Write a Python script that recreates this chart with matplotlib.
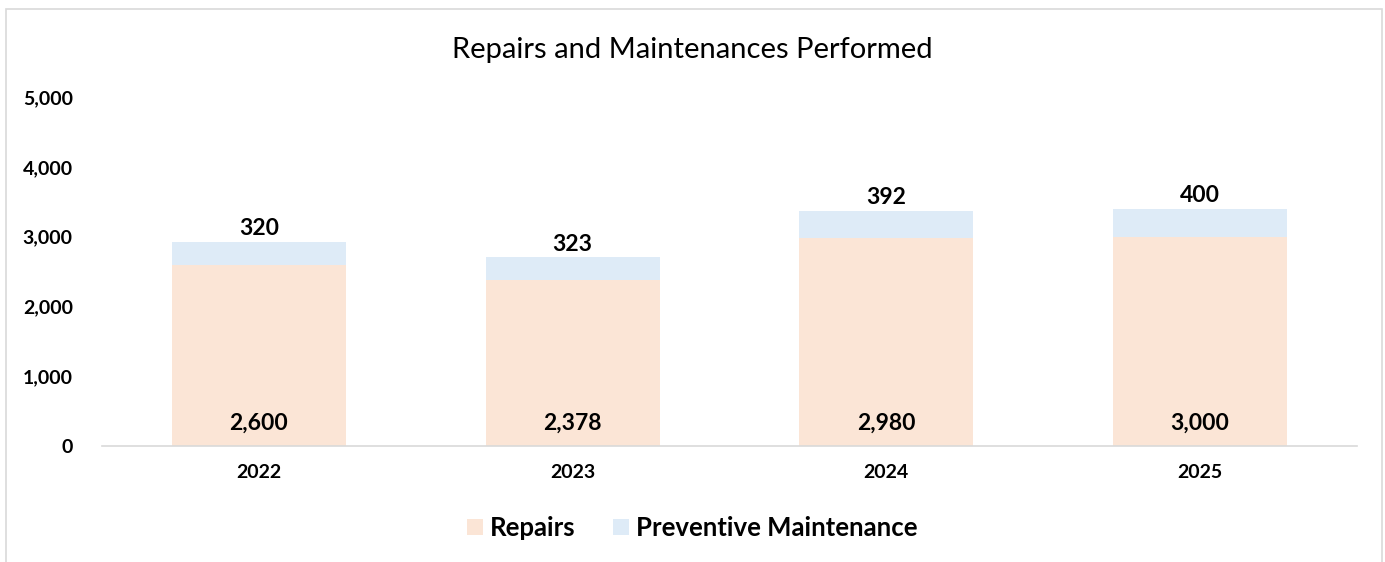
import matplotlib
matplotlib.use("Agg")
import matplotlib.pyplot as plt
import numpy as np
from matplotlib.patches import Rectangle

plt.rcParams['font.family'] = ['Lato', 'DejaVu Sans']

years = ["2022", "2023", "2024", "2025"]
repairs = [2600, 2378, 2980, 3000]
preventive = [320, 323, 392, 400]

repair_color = "#FBE5D6"
prev_color = "#DEEBF7"

fig = plt.figure(figsize=(13.85, 5.62), dpi=100)
ax = fig.add_axes([102/1385, 1 - 446/562, (1357-102)/1385, (446-97)/562])

x = np.arange(len(years))
w = 0.555
ax.bar(x, repairs, w, color=repair_color, label="Repairs")
ax.bar(x, preventive, w, bottom=repairs, color=prev_color, label="Preventive Maintenance")

# labels: repairs at inside base, preventive above the bar
for i in range(len(years)):
    ax.text(x[i], 180, f"{repairs[i]:,}", ha="center", va="bottom", fontsize=16.5, fontweight="bold")
    ax.text(x[i], repairs[i] + preventive[i] + 40, f"{preventive[i]:,}", ha="center", va="bottom",
            fontsize=16.5, fontweight="bold")

ax.set_xlim(-0.5, len(years) - 0.5)
ax.set_ylim(0, 5000)
ax.set_yticks(range(0, 5001, 1000))
ax.set_yticklabels([f"{v:,}" for v in range(0, 5001, 1000)], fontsize=14, fontweight="bold")
ax.set_xticks(x)
ax.set_xticklabels(years, fontsize=14, fontweight="bold")
ax.tick_params(axis="y", length=0, pad=21)
ax.tick_params(axis="x", length=0, pad=13)
for s in ["top", "right", "left"]:
    ax.spines[s].set_visible(False)
ax.spines["bottom"].set_color("#D9D9D9")
ax.spines["bottom"].set_linewidth(1.2)

fig.text(0.5, 1 - 50/562, "Repairs and Maintenances Performed", ha="center", va="center", fontsize=21)

fig.legend(loc="center", bbox_to_anchor=(0.5, 1 - 528/562), ncol=2, frameon=False,
           prop={"size": 18.5, "weight": "bold"}, handlelength=0.62, handleheight=0.62,
           columnspacing=1.45, handletextpad=0.28)

# chart border
fig.patches.append(Rectangle((6/1385, -0.1), (1382-6)/1385, 1.1 - 9/562, transform=fig.transFigure,
                             fill=False, edgecolor="#D9D9D9", linewidth=1.2))

fig.savefig("out.png", dpi=100)
